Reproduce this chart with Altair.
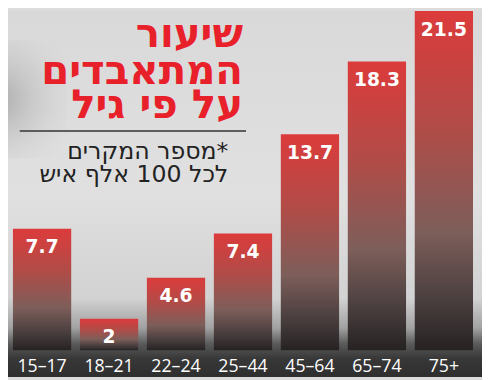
import altair as alt
import pandas as pd

ages = ["15–17", "18–21", "22–24", "25–44", "45–64", "65–74", "75+"]
rates = [7.7, 2, 4.6, 7.4, 13.7, 18.3, 21.5]

title_lines = ["שיעור", "המתאבדים", "על פי גיל"]
sub_lines = ["מספר המקרים*", "לכל 100 אלף איש"]

W, H, BOTTOM = 482, 345, 27

df = pd.DataFrame({"age": ages, "rate": rates})
one = pd.DataFrame({"k": [0]})

bg = alt.Chart(one).mark_rect(
    color=alt.Gradient(
        gradient="linear", x1=0, x2=0, y1=0, y2=1,
        stops=[
            alt.GradientStop(offset=0, color="#d9d9d9"),
            alt.GradientStop(offset=0.5, color="#e0e0e0"),
            alt.GradientStop(offset=0.785, color="#d2d2d2"),
            alt.GradientStop(offset=0.866, color="#a2a2a2"),
            alt.GradientStop(offset=0.91, color="#5a5a5a"),
            alt.GradientStop(offset=0.95, color="#383838"),
            alt.GradientStop(offset=1, color="#2e2e2e"),
        ],
    )
).encode(x=alt.value(0), x2=alt.value(W), y=alt.value(0), y2=alt.value(H + BOTTOM))

blob = alt.Chart(one).mark_rect(
    color=alt.Gradient(
        gradient="radial", x1=0.2, y1=0.5, x2=0.2, y2=0.5, r1=0, r2=0.7,
        stops=[
            alt.GradientStop(offset=0, color="rgba(110,110,110,0.45)"),
            alt.GradientStop(offset=1, color="rgba(200,200,200,0)"),
        ],
    )
).encode(x=alt.value(-10), x2=alt.value(60), y=alt.value(30), y2=alt.value(150))

xenc = alt.X(
    "age:N", sort=ages, title=None,
    scale=alt.Scale(paddingInner=0.13, paddingOuter=0.104, align=0.355),
    axis=alt.Axis(labelAngle=0, labelColor="white", labelFontSize=18, labelFont="Open Sans",
                  ticks=False, domain=False, labelPadding=8, zindex=1),
)
yenc = alt.Y("rate:Q", title=None, scale=alt.Scale(domain=[0, 21.5], nice=False), axis=None)

bars = alt.Chart(df).mark_bar(
    color=alt.Gradient(
        gradient="linear", x1=0, x2=0, y1=0, y2=1,
        stops=[
            alt.GradientStop(offset=0, color="#dc3b3b"),
            alt.GradientStop(offset=0.35, color="#b04c48"),
            alt.GradientStop(offset=0.65, color="#7d5e5a"),
            alt.GradientStop(offset=0.85, color="#4a3f3f"),
            alt.GradientStop(offset=1, color="#262222"),
        ],
    )
).encode(x=xenc, y=yenc)

labels = alt.Chart(df).mark_text(
    baseline="top", dy=10, color="white", fontSize=19, fontWeight="bold", font="DejaVu Sans"
).encode(x=xenc, y=yenc, text=alt.Text("rate:Q"))

layers = [bg, blob, bars, labels]
for line, yy in zip(title_lines, [37, 74, 109]):
    layers.append(
        alt.Chart(pd.DataFrame({"t": [line]})).mark_text(
            align="right", baseline="alphabetic", color="#e8202a", fontSize=41,
            fontWeight="bold", font="DejaVu Sans"
        ).encode(x=alt.value(239), y=alt.value(yy), text="t:N")
    )

rule = alt.Chart(one).mark_rule(color="#333333", strokeWidth=1.5).encode(
    x=alt.value(12), x2=alt.value(242), y=alt.value(122)
)
layers.append(rule)

for line, yy in zip(sub_lines, [150, 174]):
    layers.append(
        alt.Chart(pd.DataFrame({"t": [line]})).mark_text(
            align="right", baseline="alphabetic", color="#222222", fontSize=24, font="DejaVu Sans"
        ).encode(x=alt.value(224), y=alt.value(yy), text="t:N")
    )

chart = alt.layer(*layers).properties(
    width=W, height=H,
    autosize=alt.AutoSizeParams(type="none"),
    padding={"left": 0, "right": 0, "top": 0, "bottom": BOTTOM},
    background="#dcdcdc",
).configure_view(strokeWidth=0)

chart.save("out.html", embed_options={"renderer": "svg", "actions": False})
